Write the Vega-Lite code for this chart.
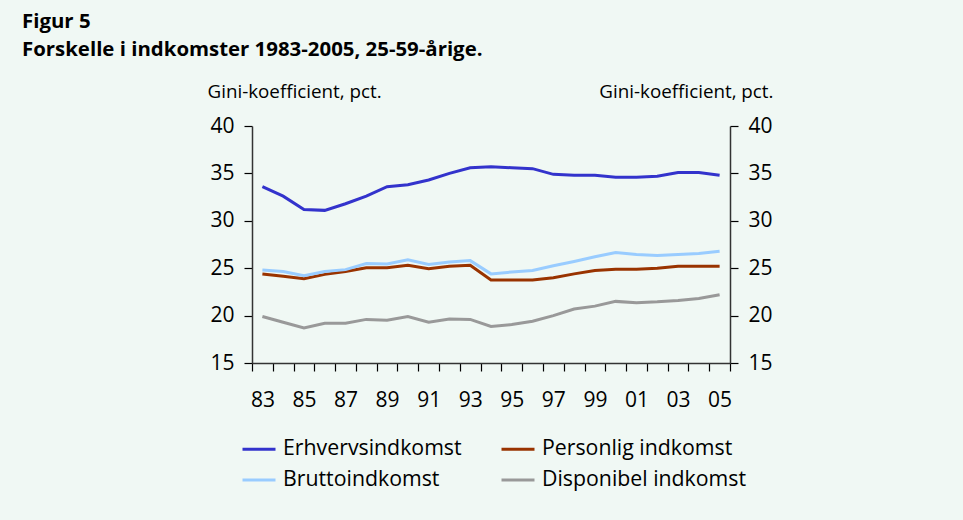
{
  "$schema": "https://vega.github.io/schema/vega-lite/v6.json",
  "width": 478,
  "height": 237,
  "autosize": {"type": "none"},
  "padding": {"left": 252, "top": 126, "right": 233, "bottom": 157},
  "background": "#f0f8f4",
  "config": {
    "font": "Open Sans",
    "view": {"stroke": null},
    "axis": {
      "grid": false,
      "labelColor": "black",
      "titleColor": "black",
      "tickColor": "black",
      "domainColor": "#333333",
      "domainWidth": 1.5,
      "tickWidth": 1.2,
      "tickSize": 8,
      "labelFontSize": 21,
      "titleFontSize": 18.8,
      "titleFontWeight": "normal"
    },
    "legend": {"padding": 0}
  },
  "title": {
    "text": "Figur 5",
    "subtitle": "Forskelle i indkomster 1983-2005, 25-59-årige.",
    "anchor": "start",
    "frame": "group",
    "dx": -230,
    "fontSize": 20.4,
    "fontWeight": "bold",
    "color": "black",
    "subtitleFontSize": 20.4,
    "subtitleFontWeight": "bold",
    "subtitleColor": "black",
    "subtitlePadding": 7,
    "offset": 22
  },
  "data": {
    "values": [
      {"år": 1983, "Erhvervsindkomst": 33.6, "Personlig indkomst": 24.4, "Bruttoindkomst": 24.8, "Disponibel indkomst": 19.9},
      {"år": 1984, "Erhvervsindkomst": 32.6, "Personlig indkomst": 24.15, "Bruttoindkomst": 24.65, "Disponibel indkomst": 19.3},
      {"år": 1985, "Erhvervsindkomst": 31.2, "Personlig indkomst": 23.9, "Bruttoindkomst": 24.2, "Disponibel indkomst": 18.7},
      {"år": 1986, "Erhvervsindkomst": 31.1, "Personlig indkomst": 24.35, "Bruttoindkomst": 24.65, "Disponibel indkomst": 19.2},
      {"år": 1987, "Erhvervsindkomst": 31.8, "Personlig indkomst": 24.65, "Bruttoindkomst": 24.85, "Disponibel indkomst": 19.2},
      {"år": 1988, "Erhvervsindkomst": 32.6, "Personlig indkomst": 25.05, "Bruttoindkomst": 25.5, "Disponibel indkomst": 19.6},
      {"år": 1989, "Erhvervsindkomst": 33.6, "Personlig indkomst": 25.05, "Bruttoindkomst": 25.45, "Disponibel indkomst": 19.5},
      {"år": 1990, "Erhvervsindkomst": 33.8, "Personlig indkomst": 25.3, "Bruttoindkomst": 25.9, "Disponibel indkomst": 19.9},
      {"år": 1991, "Erhvervsindkomst": 34.3, "Personlig indkomst": 24.95, "Bruttoindkomst": 25.4, "Disponibel indkomst": 19.3},
      {"år": 1992, "Erhvervsindkomst": 35.0, "Personlig indkomst": 25.2, "Bruttoindkomst": 25.65, "Disponibel indkomst": 19.65},
      {"år": 1993, "Erhvervsindkomst": 35.6, "Personlig indkomst": 25.3, "Bruttoindkomst": 25.8, "Disponibel indkomst": 19.6},
      {"år": 1994, "Erhvervsindkomst": 35.7, "Personlig indkomst": 23.75, "Bruttoindkomst": 24.4, "Disponibel indkomst": 18.85},
      {"år": 1995, "Erhvervsindkomst": 35.6, "Personlig indkomst": 23.75, "Bruttoindkomst": 24.6, "Disponibel indkomst": 19.05},
      {"år": 1996, "Erhvervsindkomst": 35.5, "Personlig indkomst": 23.75, "Bruttoindkomst": 24.75, "Disponibel indkomst": 19.4},
      {"år": 1997, "Erhvervsindkomst": 34.9, "Personlig indkomst": 24.0, "Bruttoindkomst": 25.25, "Disponibel indkomst": 20.0},
      {"år": 1998, "Erhvervsindkomst": 34.8, "Personlig indkomst": 24.4, "Bruttoindkomst": 25.7, "Disponibel indkomst": 20.7},
      {"år": 1999, "Erhvervsindkomst": 34.8, "Personlig indkomst": 24.75, "Bruttoindkomst": 26.2, "Disponibel indkomst": 21.0},
      {"år": 2000, "Erhvervsindkomst": 34.6, "Personlig indkomst": 24.9, "Bruttoindkomst": 26.65, "Disponibel indkomst": 21.5},
      {"år": 2001, "Erhvervsindkomst": 34.6, "Personlig indkomst": 24.9, "Bruttoindkomst": 26.45, "Disponibel indkomst": 21.35},
      {"år": 2002, "Erhvervsindkomst": 34.7, "Personlig indkomst": 25.0, "Bruttoindkomst": 26.35, "Disponibel indkomst": 21.45},
      {"år": 2003, "Erhvervsindkomst": 35.1, "Personlig indkomst": 25.2, "Bruttoindkomst": 26.45, "Disponibel indkomst": 21.6},
      {"år": 2004, "Erhvervsindkomst": 35.1, "Personlig indkomst": 25.2, "Bruttoindkomst": 26.55, "Disponibel indkomst": 21.8},
      {"år": 2005, "Erhvervsindkomst": 34.8, "Personlig indkomst": 25.2, "Bruttoindkomst": 26.8, "Disponibel indkomst": 22.2}
    ]
  },
  "transform": [
    {"fold": ["Erhvervsindkomst", "Personlig indkomst", "Bruttoindkomst", "Disponibel indkomst"], "as": ["serie", "gini"]}
  ],
  "layer": [
    {
      "mark": {"type": "line", "strokeWidth": 3},
      "encoding": {
        "x": {
          "field": "år",
          "type": "ordinal",
          "scale": {"type": "band", "paddingInner": 0, "paddingOuter": 0},
          "axis": {
            "title": null,
            "labelAngle": 0,
            "tickBand": "extent",
            "labelPadding": 18,
            "labelExpr": "datum.value % 2 == 1 ? substring(toString(datum.value), 2, 4) : ''"
          }
        },
        "y": {
          "field": "gini",
          "type": "quantitative",
          "scale": {"domain": [15, 40], "nice": false, "zero": false},
          "axis": {
            "orient": "left",
            "values": [15, 20, 25, 30, 35, 40],
            "labelPadding": 10,
            "title": "Gini-koefficient, pct.",
            "titleAngle": 0,
            "titleAlign": "left",
            "titleBaseline": "alphabetic",
            "titleX": -45,
            "titleY": -29
          }
        },
        "color": {
          "field": "serie",
          "type": "nominal",
          "scale": {
            "domain": ["Erhvervsindkomst", "Bruttoindkomst", "Personlig indkomst", "Disponibel indkomst"],
            "range": ["#3333cc", "#99ccff", "#993300", "#999999"]
          },
          "legend": {
            "title": null,
            "orient": "none",
            "legendX": -11,
            "legendY": 305,
            "columns": 2,
            "columnPadding": 33,
            "rowPadding": 2,
            "symbolType": "stroke",
            "symbolSize": 1089,
            "symbolStrokeWidth": 3,
            "labelFontSize": 21.3,
            "labelLimit": 400,
            "labelColor": "black",
            "labelOffset": 6
          }
        }
      }
    },
    {
      "mark": {"type": "line", "opacity": 0},
      "encoding": {
        "x": {
          "field": "år",
          "type": "ordinal",
          "scale": {"type": "band", "paddingInner": 0, "paddingOuter": 0},
          "axis": {
            "title": null,
            "labelAngle": 0,
            "tickBand": "extent",
            "labelPadding": 18,
            "labelExpr": "datum.value % 2 == 1 ? substring(toString(datum.value), 2, 4) : ''"
          }
        },
        "y": {
          "field": "gini",
          "type": "quantitative",
          "scale": {"domain": [15, 40], "nice": false, "zero": false},
          "axis": {
            "orient": "right",
            "values": [15, 20, 25, 30, 35, 40],
            "labelPadding": 10,
            "title": "Gini-koefficient, pct.",
            "titleAngle": 0,
            "titleAlign": "right",
            "titleBaseline": "alphabetic",
            "titleX": 43,
            "titleY": -29
          }
        },
        "detail": {"field": "serie"}
      }
    }
  ],
  "resolve": {"scale": {"y": "independent"}}
}
